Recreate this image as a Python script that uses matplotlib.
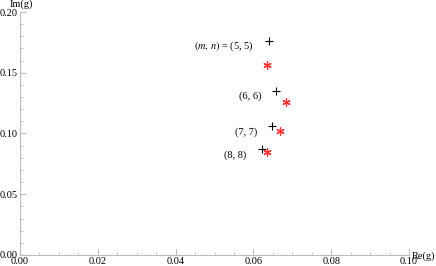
import matplotlib.pyplot as plt
from matplotlib.ticker import MultipleLocator

plt.rcParams['font.family'] = ['Liberation Serif', 'DejaVu Serif']
plt.rcParams['mathtext.fontset'] = 'stix'

# (m, n) labels and the two sets of points
labels = ["$(m,\\, n)$ = (5, 5)", "(6, 6)", "(7, 7)", "(8, 8)"]
plus_re = [0.0641, 0.0659, 0.0649, 0.0621]
plus_im = [0.176, 0.135, 0.106, 0.087]
star_re = [0.0636, 0.0685, 0.0669, 0.0636]
star_im = [0.156, 0.126, 0.102, 0.085]

fig = plt.figure(figsize=(4.36, 2.66), dpi=100)
ax = fig.add_axes([20 / 436, 11 / 266, 389 / 436, 243 / 266])

ax.scatter(plus_re, plus_im, marker='+', s=40, color='black', linewidths=0.8, zorder=3)
ax.scatter(star_re, star_im, marker=(6, 2, 0), s=28, color='#ff3030', linewidths=0.9, zorder=3)

# labels sit to the left of the "+" points
for lab, x, y in zip(labels, plus_re, plus_im):
    ax.annotate(lab, (x, y), xytext=(-11, -4), textcoords='offset points',
                ha='right', va='center', fontsize=7.5)

ax.set_xlim(0, 0.1)
ax.set_ylim(0, 0.2)
ax.xaxis.set_major_locator(MultipleLocator(0.02))
ax.xaxis.set_minor_locator(MultipleLocator(0.005))
ax.yaxis.set_major_locator(MultipleLocator(0.05))
ax.yaxis.set_minor_locator(MultipleLocator(0.01))
ax.xaxis.set_major_formatter(plt.FormatStrFormatter('%.2f'))
ax.yaxis.set_major_formatter(plt.FormatStrFormatter('%.2f'))

for side in ['top', 'right']:
    ax.spines[side].set_visible(False)
for side in ['left', 'bottom']:
    ax.spines[side].set_color('#bbbbbb')
    ax.spines[side].set_linewidth(0.8)

ax.tick_params(which='both', direction='in', color='#bbbbbb', labelsize=7.5, pad=1.5)
ax.tick_params(which='major', length=4)
ax.tick_params(which='minor', length=2)

ax.annotate("Im(g)", (0, 1), xycoords='axes fraction', xytext=(1, 2),
            textcoords='offset points', ha='center', va='bottom', fontsize=7.5)
ax.annotate("Re(g)", (1, 0), xycoords='axes fraction', xytext=(2, -1),
            textcoords='offset points', ha='left', va='center', fontsize=7.5)

fig.savefig("out.png", dpi=100)
